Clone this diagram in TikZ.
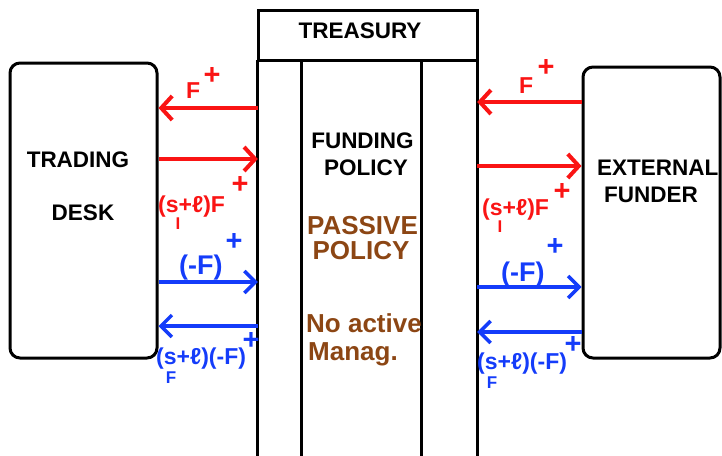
\documentclass[tikz,border=0pt]{standalone}
\usepackage{fontspec}
\setmainfont{Liberation Sans}
\usetikzlibrary{arrows.meta}
\definecolor{myred}{RGB}{250,20,20}
\definecolor{myblue}{RGB}{20,60,250}
\definecolor{mybrown}{RGB}{140,70,20}
\tikzset{
  box/.style={draw, line width=3pt, rounded corners=10pt, inner sep=0pt},
  wall/.style={line width=3pt},
  txt/.style={inner sep=0pt, font=\bfseries\fontsize{22.5}{22.5}\selectfont},
  big/.style={inner sep=0pt, font=\bfseries\fontsize{26}{26}\selectfont, text=mybrown},
  lab/.style={inner sep=0pt, font=\bfseries\fontsize{23}{23}\selectfont},
  labb/.style={inner sep=0pt, font=\bfseries\fontsize{27}{27}\selectfont},
  plus/.style={inner sep=0pt, font=\bfseries\fontsize{29}{29}\selectfont},
  sub/.style={inner sep=0pt, font=\bfseries\fontsize{17}{17}\selectfont},
  ra/.style={line width=4pt, draw=myred, -{Straight Barb[length=11pt,width=24pt]}},
  ba/.style={line width=3.5pt, draw=myblue, -{Straight Barb[length=11pt,width=22pt]}}
}
\begin{document}
\begin{tikzpicture}[x=1pt,y=-1pt]
\useasboundingbox (0,0) rectangle (722,455);
% boxes
\node[box, minimum width=147pt, minimum height=295pt] (td) at (83.5,210.5) {};
\node[box, minimum width=137pt, minimum height=291pt] (ef) at (651.5,212.5) {};
\node[draw, line width=3pt, minimum width=219pt, minimum height=50pt, inner sep=0pt] (tr) at (367.5,35) {};
\node[inner sep=0pt, minimum width=219pt, minimum height=400pt] (tb) at (367.5,260) {};
\node[inner sep=0pt, minimum width=119pt, minimum height=400pt] (ti) at (361.5,260) {};
\draw[wall] (tb.north west) -- (tb.south west);
\draw[wall] (tb.north east) -- (tb.south east);
\draw[wall] (ti.north west) -- (ti.south west);
\draw[wall] (ti.north east) -- (ti.south east);
% texts
\node[txt, anchor=base] (t1) at (360,38) {TREASURY};
\node[txt, anchor=base] (t2) at (362.5,148) {FUNDING};
\node[txt, anchor=base] (t3) at (366,175) {POLICY};
\node[big, anchor=base] (t4) at (362.5,234) {PASSIVE};
\node[big, anchor=base] (t5) at (361,259) {POLICY};
\node[big, anchor=base west] (t6) at (306,332) {No active};
\node[big, anchor=base west] (t7) at (308,360) {Manag.};
\node[txt, anchor=base] (t8) at (78,167) {TRADING};
\node[txt, anchor=base] (t9) at (83,220) {DESK};
\node[txt, anchor=base west] (t10) at (597,175) {EXTERNAL};
\node[txt, anchor=base west] (t11) at (604,202) {FUNDER};
% arrows left
\draw[ra] (tb.west |- 0,108) -- (td.east |- 0,108);
\draw[ra] (td.east |- 0,159) -- (tb.west |- 0,159);
\draw[ba] (td.east |- 0,282) -- (tb.west |- 0,282);
\draw[ba] (tb.west |- 0,326) -- (td.east |- 0,326);
% arrows right
\draw[ra] (ef.west |- 0,102) -- (tb.east |- 0,102);
\draw[ra] (tb.east |- 0,166) -- (ef.west |- 0,166);
\draw[ba] (tb.east |- 0,287) -- (ef.west |- 0,287);
\draw[ba] (ef.west |- 0,332) -- (tb.east |- 0,332);
% labels left
\node[lab, text=myred, anchor=base west] (l1) at (186,98) {F};
\node[plus, text=myred] (l1p) at (212,76) {+};
\node[lab, text=myred, anchor=base west] (l2) at (158,212) {(s+ℓ)F};
\node[plus, text=myred] (l2p) at (240,185) {+};
\node[sub, text=myred] (l2s) at (178,224) {I};
\node[labb, text=myblue, anchor=base west] (l3) at (179,274) {(-F)};
\node[plus, text=myblue] (l3p) at (234,242) {+};
\node[lab, text=myblue, anchor=base west] (l4) at (156,364) {(s+ℓ)(-F)};
\node[plus, text=myblue] (l4p) at (251,341) {+};
\node[sub, text=myblue] (l4s) at (171,378) {F};
% labels right
\node[lab, text=myred, anchor=base west] (r1) at (519,93) {F};
\node[plus, text=myred] (r1p) at (546,68) {+};
\node[lab, text=myred, anchor=base west] (r2) at (482,215) {(s+ℓ)F};
\node[plus, text=myred] (r2p) at (562,192) {+};
\node[sub, text=myred] (r2s) at (500,227) {I};
\node[labb, text=myblue, anchor=base west] (r3) at (501,281) {(-F)};
\node[plus, text=myblue] (r3p) at (555,247) {+};
\node[lab, text=myblue, anchor=base west] (r4) at (477,369) {(s+ℓ)(-F)};
\node[plus, text=myblue] (r4p) at (573,345) {+};
\node[sub, text=myblue] (r4s) at (492,383) {F};
\end{tikzpicture}
\end{document}
